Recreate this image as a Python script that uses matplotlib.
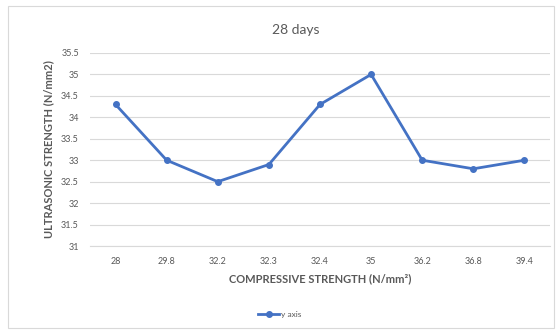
import matplotlib
matplotlib.use("Agg")
import matplotlib.pyplot as plt
from matplotlib.patches import Rectangle

plt.rcParams['font.family'] = ['Lato', 'DejaVu Sans']

categories = ["28", "29.8", "32.2", "32.3", "32.4", "35", "36.2", "36.8", "39.4"]
ultrasonic = [34.3, 33.0, 32.5, 32.9, 34.3, 35.0, 33.0, 32.8, 33.0]
y_ticks = [31, 31.5, 32, 32.5, 33, 33.5, 34, 34.5, 35, 35.5]
y_tick_labels = ["31", "31.5", "32", "32.5", "33", "33.5", "34", "34.5", "35", "35.5"]

W, H = 560, 331
fig = plt.figure(figsize=(W / 100, H / 100), dpi=100)

# chart frame
fig.patches.append(Rectangle((8 / W, 1 - 328 / H), (554 - 8) / W, (328 - 6) / H,
                             transform=fig.transFigure, fill=False,
                             edgecolor="#D9D9D9", linewidth=0.8))

ax = fig.add_axes([90 / W, 1 - 246 / H, 460 / W, (246 - 53) / H])
x = list(range(len(categories)))
line_color = "#4472C4"
ax.plot(x, ultrasonic, color=line_color, linewidth=2.0, marker="o",
        markersize=4, label="y axis", zorder=3)

ax.set_xlim(-0.5, len(categories) - 0.5)
ax.set_ylim(31, 35.5)
ax.set_yticks(y_ticks)
ax.set_yticklabels(y_tick_labels)
ax.set_xticks(x)
ax.set_xticklabels(categories)
ax.tick_params(axis="both", length=0, labelsize=6.5, labelcolor="#595959")
ax.tick_params(axis="x", pad=8)
ax.tick_params(axis="y", pad=8)
ax.grid(axis="y", color="#D9D9D9", linewidth=0.8)
ax.set_axisbelow(True)
for s in ["top", "right", "left"]:
    ax.spines[s].set_visible(False)
ax.spines["bottom"].set_color("#D9D9D9")
ax.spines["bottom"].set_linewidth(0.8)

ax.set_xlabel("COMPRESSIVE STRENGTH (N/mm²)", fontsize=8, fontweight="bold",
              color="#595959", labelpad=5)
ax.set_ylabel("ULTRASONIC STRENGTH (N/mm2)", fontsize=8, fontweight="bold",
              color="#595959", labelpad=5)

fig.text(296 / W, 1 - 30 / H, "28 days", ha="center", va="center",
         fontsize=10, color="#595959")

ax.legend(loc="center", bbox_to_anchor=(0.5, 1 - 314 / H), bbox_transform=fig.transFigure,
          frameon=False, fontsize=6, labelcolor="#595959", handlelength=2.5,
          handletextpad=0.3)

fig.savefig("out.png", dpi=100)
